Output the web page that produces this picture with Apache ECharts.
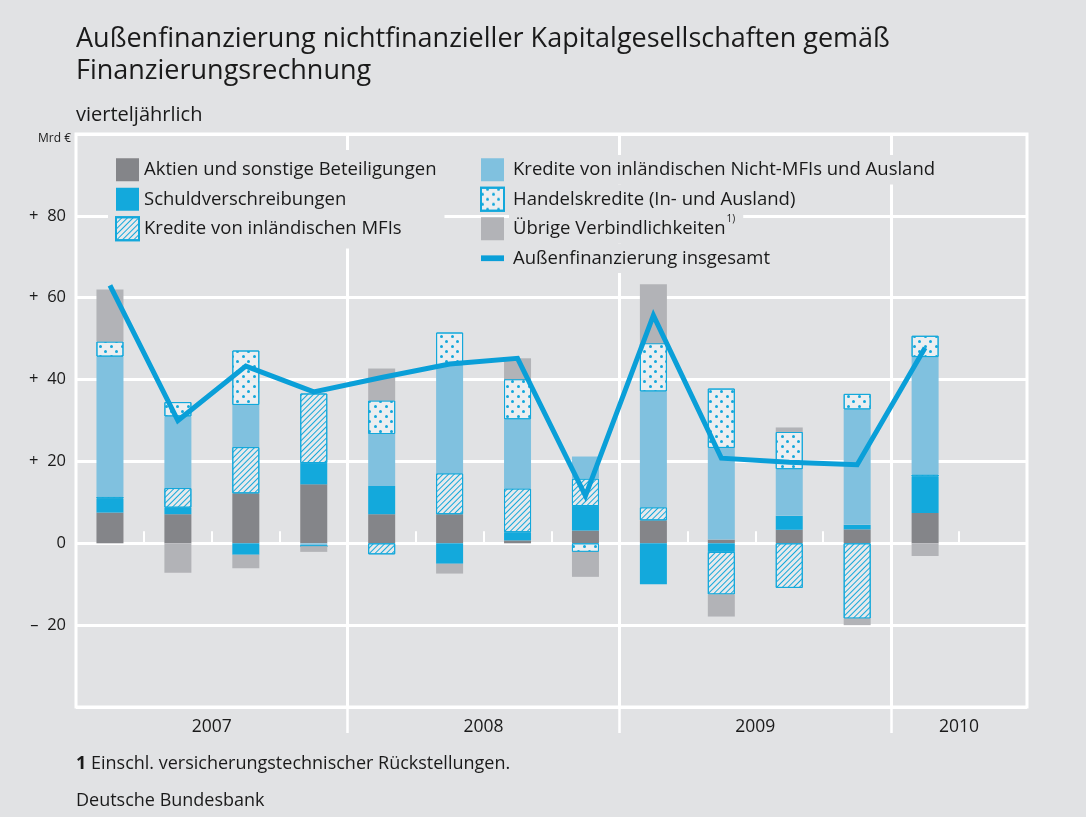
<!DOCTYPE html>
<html>
<head>
<meta charset="utf-8">
<script src="https://cdn.jsdelivr.net/npm/echarts@6/dist/echarts.min.js"></script>
<style>
  html, body { margin: 0; padding: 0; background: #e1e2e4; }
  #edge { position: absolute; left: 0; top: 0; width: 8px; height: 817px; background: #fff; }
  #chart { width: 1086px; height: 817px; }
</style>
</head>
<body>
<div id="edge"></div>
<div id="chart"></div>
<script>
// Quartale 2007 Q1 bis 2010 Q2 (letztes Quartal ohne Daten)
var quartale = ['2007 Q1', '2007 Q2', '2007 Q3', '2007 Q4', '2008 Q1', '2008 Q2', '2008 Q3', '2008 Q4',
  '2009 Q1', '2009 Q2', '2009 Q3', '2009 Q4', '2010 Q1', '2010 Q2'];
var jahre = { 2: '2007', 6: '2008', 10: '2009', 13: '2010' };

// Mrd €
var aktien   = [7.5, 7.1, 12.2, 14.4, 7.1, 7.1, 0.7, 3.1, 5.6, 0.9, 3.3, 3.4, 7.4];
var schuld   = [3.4, 1.6, -2.8, 5.2, 6.9, -5.0, 2.0, 6.0, -10.0, -2.1, 3.4, 1.1, 8.9];
var mfi      = [0.5, 4.8, 11.3, 17.0, -2.7, 10.0, 10.7, 6.7, 3.2, -10.4, -10.9, -18.4, 0.5];
var nichtMfi = [34.2, 17.5, 10.3, -0.7, 12.7, 26.4, 16.9, 5.4, 28.3, 22.4, 11.4, 28.2, 28.7];
var handel   = [3.7, 3.5, 13.3, 0, 8.2, 8.0, 9.8, -2.1, 11.8, 14.5, 9.1, 3.8, 5.2];
var uebrige  = [12.7, -7.2, -3.3, -1.4, 7.8, -2.4, 5.1, -6.1, 14.4, -5.4, 1.1, -1.6, -3.1];
var insgesamt = [63.0, 30.0, 43.3, 37.0, 40.5, 43.8, 45.2, 11.6, 55.7, 20.8, 19.8, 19.2, 47.8];

var bg = '#e1e2e4';
var blau = '#13a8db';
var ink = '#1a1a1a';
var font = '"Open Sans", "Noto Sans", sans-serif';

var schraffur = {
  symbol: 'rect', symbolSize: 1,
  dashArrayX: [1, 0], dashArrayY: [1, 3],
  rotation: -Math.PI / 4, color: blau
};
var punkte = {
  symbol: 'circle', symbolSize: 1,
  dashArrayX: [[3, 8], [0, 5, 3, 3]], dashArrayY: [3, 2],
  rotation: 0, color: blau
};

function bar(name, data, color, decal) {
  var s = {
    name: name, type: 'bar', stack: 'summe', barWidth: 27,
    data: data,
    itemStyle: { color: color }
  };
  if (decal) {
    s.itemStyle.borderColor = blau;
    s.itemStyle.borderWidth = 1;
    s.itemStyle.decal = decal;
  }
  return s;
}

var chart = echarts.init(document.getElementById('chart'));
chart.setOption({
  backgroundColor: bg,
  animation: false,
  textStyle: { fontFamily: font },
  graphic: [
    { type: 'text', left: 76, top: 23, style: { text: 'Außenfinanzierung nichtfinanzieller Kapitalgesellschaften gemäß\nFinanzierungsrechnung', font: '27px ' + font, fill: ink, lineHeight: 32 } },
    { type: 'text', left: 76, top: 105, style: { text: 'vierteljährlich', font: '20px ' + font, fill: ink } },
    { type: 'text', left: 38, top: 133, style: { text: 'Mrd €', font: '12px ' + font, fill: ink } },
    { type: 'text', left: 76, top: 755, style: { text: '{b|1} Einschl. versicherungstechnischer Rückstellungen.', font: '18px ' + font, fill: ink, rich: { b: { fontWeight: 'bold', fontSize: 18, fontFamily: font } } } },
    { type: 'text', left: 76, top: 792, style: { text: 'Deutsche Bundesbank', font: '18px ' + font, fill: ink } }
  ],
  legend: [{
    orient: 'vertical', left: 108, top: 150, padding: [5, 8, 5, 7],
    backgroundColor: bg, icon: 'rect',
    itemWidth: 23, itemHeight: 23, itemGap: 0,
    textStyle: { fontSize: 18.5, color: ink, fontFamily: font, lineHeight: 29.5 },
    data: ['Aktien und sonstige Beteiligungen', 'Schuldverschreibungen', 'Kredite von inländischen MFIs']
  }, {
    orient: 'vertical', left: 480, top: 155, padding: 0, icon: 'rect',
    itemWidth: 23, itemHeight: 23, itemGap: 0,
    textStyle: { fontSize: 18.5, color: ink, fontFamily: font, backgroundColor: bg, padding: [0, 8, 0, 4], lineHeight: 29.5,
      rich: { t: { fontSize: 18.5, fontFamily: font, color: ink, lineHeight: 29.5 }, s: { fontSize: 10, fontFamily: font, color: ink, verticalAlign: 'top', padding: [0, 0, 5, 1] } } },
    formatter: function (n) {
      return n === 'Übrige Verbindlichkeiten' ? '{t|' + n + '}{s|1)}' : '{t|' + n + '}';
    },
    data: ['Kredite von inländischen Nicht-MFIs und Ausland', 'Handelskredite (In- und Ausland)', 'Übrige Verbindlichkeiten',
      { name: 'Außenfinanzierung insgesamt', icon: 'path://M0,0H24V6H0Z' }]
  }],
  grid: {
    left: 76, right: 59, top: 134, bottom: 110,
    show: true, borderColor: '#fff', borderWidth: 3, backgroundColor: 'transparent'
  },
  xAxis: [{
    type: 'category', data: quartale,
    axisLine: { show: false },
    axisTick: { show: true, inside: true, length: 12, lineStyle: { color: '#fff', width: 2 } },
    axisLabel: { show: false },
    splitLine: { show: false }
  }, {
    type: 'value', min: 0, max: 14, interval: 4, position: 'bottom',
    axisLine: { show: false },
    axisTick: { show: true, length: 26, customValues: [4, 8, 12], lineStyle: { color: '#fff', width: 2.5 } },
    axisLabel: {
      customValues: [2, 6, 10, 13], margin: 11, fontSize: 17.5, color: ink,
      formatter: function (v) { return jahre[v] || ''; }
    },
    splitLine: { show: true, lineStyle: { color: '#fff', width: 3 } }
  }],
  yAxis: {
    type: 'value', min: -40, max: 100, interval: 20,
    axisLine: { show: false }, axisTick: { show: false },
    splitLine: { lineStyle: { color: '#fff', width: 3 } },
    axisLabel: {
      margin: 10, fontSize: 16.5, color: ink,
      formatter: function (v) {
        if (v === -40 || v === 100) return '';
        if (v > 0) return '+  ' + v;
        if (v < 0) return '–  ' + (-v);
        return '0';
      }
    }
  },
  series: [
    bar('Aktien und sonstige Beteiligungen', aktien, '#848589'),
    bar('Schuldverschreibungen', schuld, '#13a9dc'),
    bar('Kredite von inländischen MFIs', mfi, '#e8e9eb', schraffur),
    bar('Kredite von inländischen Nicht-MFIs und Ausland', nichtMfi, '#80c1df'),
    bar('Handelskredite (In- und Ausland)', handel, '#eceef0', punkte),
    bar('Übrige Verbindlichkeiten', uebrige, '#b2b3b7'),
    {
      name: 'Außenfinanzierung insgesamt', type: 'line', data: insgesamt,
      symbol: 'none', z: 5,
      lineStyle: { color: '#0a9fd8', width: 5, join: 'miter' },
      itemStyle: { color: '#0a9fd8' }
    }
  ]
});
</script>
</body>
</html>
